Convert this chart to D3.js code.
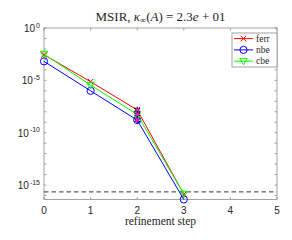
<!DOCTYPE html>
<html>
<head>
<meta charset="utf-8">
<script src="https://cdn.jsdelivr.net/npm/d3@7"></script>
<style>
  body { margin: 0; background: #fff; }
  svg text { fill: #262626; }
</style>
</head>
<body>
<div id="chart"></div>
<script>
// data
const steps = [0, 1, 2, 3];
const ferr = [2.8e-3, 7.4e-6, 1.5e-8, 1.35e-16];
const nbe = [6.5e-4, 1.0e-6, 1.6e-9, 4.2e-17];
const cbe = [3.2e-3, 3.5e-6, 5.6e-9, 1.4e-16];
const stopStep = 2; // marked iterations
const epsVal = 2.22e-16;
const xTicks = [0, 1, 2, 3, 4, 5];
const yLabelExps = [0, -5, -10, -15];

(function () {

const W = 292, H = 240;
const mLeft = 44, mRight = 277, mTop = 28, mBottom = 199.5;

const svg = d3.select('#chart').append('svg')
    .attr('width', W).attr('height', H);

const x = d3.scaleLinear().domain([0, 5]).range([mLeft, mRight]);
const y = d3.scaleLog().domain([Math.pow(10, -16.38), 1]).range([mBottom, mTop]);

// axes box
const axisColor = '#8c8c8c';
svg.append('rect')
    .attr('x', mLeft).attr('y', mTop)
    .attr('width', mRight - mLeft).attr('height', mBottom - mTop)
    .attr('fill', 'none').attr('stroke', axisColor).attr('stroke-width', 0.8);

// x ticks
const tl = 2.5;
xTicks.forEach(t => {
    svg.append('line').attr('x1', x(t)).attr('x2', x(t)).attr('y1', mBottom).attr('y2', mBottom - tl)
        .attr('stroke', axisColor).attr('stroke-width', 0.8);
    svg.append('line').attr('x1', x(t)).attr('x2', x(t)).attr('y1', mTop).attr('y2', mTop + tl)
        .attr('stroke', axisColor).attr('stroke-width', 0.8);
    svg.append('text').attr('x', x(t)).attr('y', mBottom + 14)
        .attr('text-anchor', 'middle')
        .style('font', '10px "Liberation Sans", Arial, sans-serif')
        .text(t);
});

// y ticks every decade
d3.range(-16, 1).forEach(e => {
    const yy = y(Math.pow(10, e));
    svg.append('line').attr('x1', mLeft).attr('x2', mLeft + tl).attr('y1', yy).attr('y2', yy)
        .attr('stroke', axisColor).attr('stroke-width', 0.8);
    svg.append('line').attr('x1', mRight).attr('x2', mRight - tl).attr('y1', yy).attr('y2', yy)
        .attr('stroke', axisColor).attr('stroke-width', 0.8);
});
yLabelExps.forEach(e => {
    const t = svg.append('text').attr('x', mLeft - 4).attr('y', y(Math.pow(10, e)) + 4)
        .attr('text-anchor', 'end')
        .style('font', '10px "Liberation Sans", Arial, sans-serif');
    t.append('tspan').text('10');
    t.append('tspan').attr('dx', 1).attr('dy', -4.5).style('font-size', '7px').text(e);
});

// eps line
svg.append('line')
    .attr('x1', mLeft).attr('x2', mRight)
    .attr('y1', y(epsVal)).attr('y2', y(epsVal))
    .attr('stroke', '#333').attr('stroke-width', 1)
    .attr('stroke-dasharray', '4.5,3');

const series = [
    { name: 'ferr', values: ferr, color: '#ff0000', marker: 'x' },
    { name: 'nbe', values: nbe, color: '#0000ff', marker: 'o' },
    { name: 'cbe', values: cbe, color: '#00ff00', marker: 'v' }
];

function drawMarker(g, type, cx, cy, color) {
    if (type === 'x') {
        const s = 2.8;
        g.append('path')
            .attr('d', `M${cx - s},${cy - s}L${cx + s},${cy + s}M${cx - s},${cy + s}L${cx + s},${cy - s}`)
            .attr('stroke', color).attr('stroke-width', 1).attr('fill', 'none');
    } else if (type === 'o') {
        g.append('circle').attr('cx', cx).attr('cy', cy).attr('r', 3.6)
            .attr('stroke', color).attr('stroke-width', 1).attr('fill', 'none');
    } else {
        const s = 3.8;
        g.append('path')
            .attr('d', `M${cx - s},${cy - s * 0.75}L${cx + s},${cy - s * 0.75}L${cx},${cy + s * 0.95}Z`)
            .attr('stroke', color).attr('stroke-width', 1).attr('fill', 'none');
    }
}

const line = d3.line().x((d, i) => x(steps[i])).y(d => y(d));
const plot = svg.append('g');

series.forEach(s => {
    plot.append('path').datum(s.values)
        .attr('d', line)
        .attr('fill', 'none').attr('stroke', s.color).attr('stroke-width', 1);
    s.values.forEach((v, i) => drawMarker(plot, s.marker, x(steps[i]), y(v), s.color));
});

// marked iterations: black asterisks with magenta squares
series.forEach(s => {
    const cx = x(stopStep), cy = y(s.values[stopStep]);
    const r = 3.2;
    let d = '';
    [0, 60, 120].forEach(a => {
        const rad = a * Math.PI / 180;
        d += `M${cx - r * Math.sin(rad)},${cy - r * Math.cos(rad)}L${cx + r * Math.sin(rad)},${cy + r * Math.cos(rad)}`;
    });
    plot.append('path').attr('d', d).attr('stroke', '#000').attr('stroke-width', 1.2);
    plot.append('rect').attr('x', cx - 1.6).attr('y', cy - 1.6).attr('width', 3.2).attr('height', 3.2)
        .attr('fill', '#ff00ff');
});

// legend
const lg = svg.append('g');
lg.append('rect').attr('x', 232).attr('y', 33).attr('width', 45).attr('height', 34)
    .attr('fill', '#fff').attr('stroke', axisColor).attr('stroke-width', 0.8);
series.forEach((s, i) => {
    const yy = 38.6 + i * 11.3;
    lg.append('line').attr('x1', 234).attr('x2', 253).attr('y1', yy).attr('y2', yy)
        .attr('stroke', s.color).attr('stroke-width', 1);
    drawMarker(lg, s.marker, 243.5, yy, s.color);
    lg.append('text').attr('x', 256).attr('y', yy + 3)
        .style('font', '9.5px "Liberation Serif", "DejaVu Serif", serif')
        .text(s.name);
});

// title
const title = svg.append('text').attr('x', (mLeft + mRight) / 2).attr('y', 21)
    .attr('text-anchor', 'middle')
    .style('font', '13px "Liberation Serif", "DejaVu Serif", serif');
title.append('tspan').text('MSIR,  ');
title.append('tspan').style('font-style', 'italic').text('κ');
title.append('tspan').attr('dy', 2).style('font-size', '8.5px').text('∞');
title.append('tspan').attr('dy', -2).text('(');
title.append('tspan').style('font-style', 'italic').text('A');
title.append('tspan').text(') = 2.3');
title.append('tspan').style('font-style', 'italic').text('e');
title.append('tspan').text(' + 01');

// x label
svg.append('text').attr('x', (mLeft + mRight) / 2).attr('y', 225)
    .attr('text-anchor', 'middle')
    .style('font', '11.5px "Liberation Serif", "DejaVu Serif", serif')
    .text('refinement step');

})();
</script>
</body>
</html>
